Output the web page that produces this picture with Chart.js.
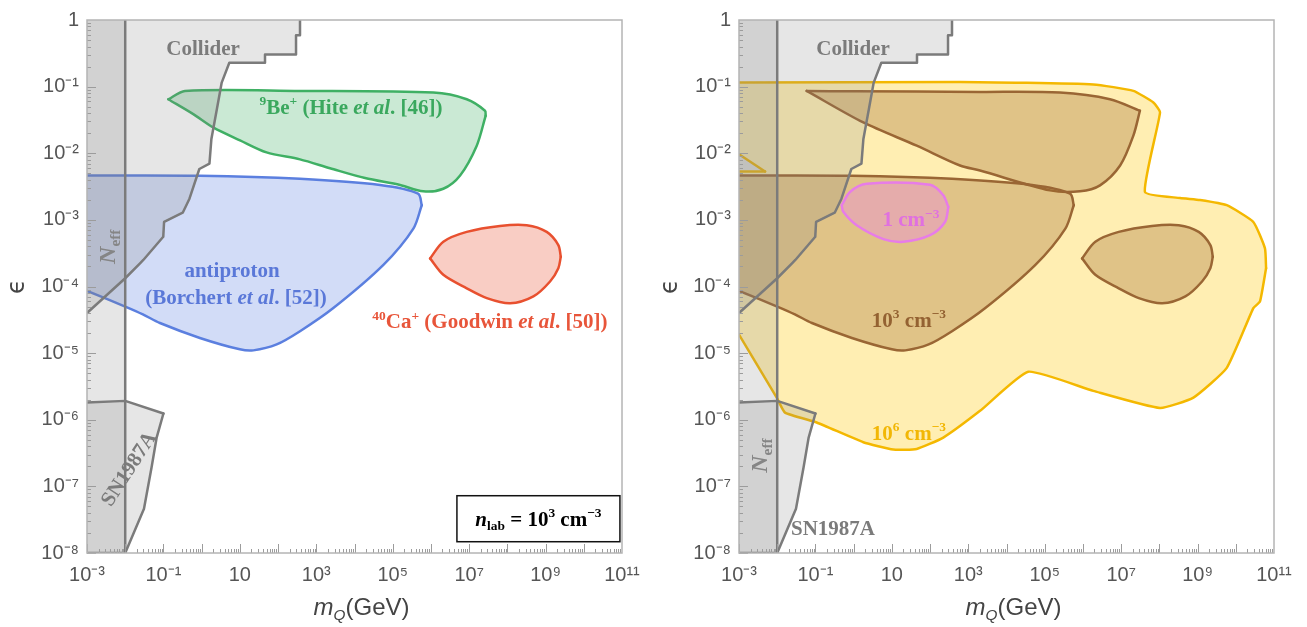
<!DOCTYPE html>
<html lang="en">
<head>
    <meta charset="UTF-8">
    <title>Millicharged particle bounds</title>
    <script src="https://cdn.jsdelivr.net/npm/chart.js"></script>
    <style>
        body {
            margin: 0;
            padding: 0;
            background: white;
            overflow: hidden;
        }
        .panel {
            position: absolute;
            top: 0;
            height: 627px;
        }
        #wrapLeft { left: 0; width: 653px; }
        #wrapRight { left: 653px; width: 654px; }
    </style>
</head>
<body>
    <div class="panel" id="wrapLeft"><canvas id="leftChart"></canvas></div>
    <div class="panel" id="wrapRight"><canvas id="rightChart"></canvas></div>

    <script>
        // ---- axes ----
        const xTickValues = [1e-3, 1e-1, 1e1, 1e3, 1e5, 1e7, 1e9, 1e11];
        const xTickLabels = ["10⁻³", "10⁻¹", "10", "10³", "10⁵", "10⁷", "10⁹", "10¹¹"];
        const yTickValues = [1, 1e-1, 1e-2, 1e-3, 1e-4, 1e-5, 1e-6, 1e-7, 1e-8];
        const yTickLabels = ["1", "10⁻¹", "10⁻²", "10⁻³", "10⁻⁴", "10⁻⁵", "10⁻⁶", "10⁻⁷", "10⁻⁸"];

        // ---- gray exclusion regions (both panels) ----
        const neffTop = [[1e-3, 1], [0.01, 1]];
        const neffBottom = [[1e-3, 1e-8], [0.01, 1e-8]];
        const neffEdge = [[0.01, 1e-8], [0.01, 1]];
        const snTop = [[1e-3, 1.81e-6], [0.01, 1.92e-6], [0.1, 1.24e-6]];
        const snBottom = [[1e-3, 1e-8], [0.01, 1e-8], [0.031, 4.6e-8], [0.049, 1.94e-7], [0.0665, 5.4e-7], [0.1, 1.24e-6]];
        const colliderTop = [[1e-3, 1], [375, 1]];
        const colliderEdge = [[1e-3, 4.0e-5], [0.01, 1.33e-4], [0.0244, 2.23e-4], [0.0298, 2.5e-4], [0.099, 5.57e-4],
            [0.104, 9.3e-4], [0.32, 1.28e-3], [0.48, 2.08e-3], [0.87, 5.8e-3], [1.6, 7.0e-3], [1.8, 0.0164],
            [2.5, 0.0458], [3.35, 0.115], [5.3, 0.228], [45.5, 0.228], [45.5, 0.303], [295, 0.303],
            [295, 0.59], [375, 0.59], [375, 1]];

        // ---- left panel: n_lab = 10^3 cm^-3 ----
        const beTop = [[0.134, 0.0646], [0.367, 0.0863], [375, 0.0863], [1.16e6, 0.0814], [8.65e6, 0.0646], [2.6e7, 0.0434], [2.7e7, 0.0365]];
        const beBottom = [[0.134, 0.0646], [0.605, 0.0386], [2.0, 0.0244], [10.1, 0.0156], [50, 0.0103], [375, 8.1e-3],
            [2290, 5.97e-3], [1.89e4, 4.24e-3], [1.56e5, 3.33e-3], [6.3e5, 2.68e-3], [2.1e6, 2.93e-3],
            [5.8e6, 4.65e-3], [1.58e7, 0.013], [2.7e7, 0.0365]];
        const pbarTop = [[1e-3, 4.64e-3], [0.9, 4.6e-3], [375, 4.13e-3], [4.66e4, 3.33e-3], [4.6e5, 2.47e-3], [5.75e5, 1.66e-3]];
        const pbarBottom = [[1e-3, 8.6e-5], [0.01, 5.0e-5], [0.029, 3.82e-5], [0.081, 2.83e-5], [0.9, 1.69e-5], [10, 1.14e-5],
            [22.5, 1.1e-5], [92, 1.35e-5], [375, 2.13e-5], [2790, 4.74e-5], [5.7e4, 2.11e-4], [3.47e5, 7.4e-4], [5.75e5, 1.66e-3]];
        const caTop = [[9.5e5, 2.64e-4], [2.11e6, 4.7e-4], [8.65e6, 6.6e-4], [6.4e7, 8.1e-4], [3.2e8, 8.3e-4], [1.07e9, 6.6e-4], [2.16e9, 4.19e-4], [2.5e9, 2.8e-4]];
        const caBottom = [[9.5e5, 2.64e-4], [2.11e6, 1.5e-4], [8.65e6, 9.4e-5], [2.9e7, 6.7e-5], [1.18e8, 5.6e-5], [4.8e8, 7.1e-5], [1.31e9, 1.19e-4], [2.16e9, 1.88e-4], [2.5e9, 2.8e-4]];

        // ---- right panel: density contours ----
        const n6Top = [[1e-3, 0.115], [608, 0.1175], [1.87e6, 0.108], [2.09e7, 0.0863], [6.97e7, 0.0577], [1.04e8, 0.0409],
            [4.2e7, 2.62e-3], [3.5e8, 2.13e-3], [1.16e9, 1.99e-3], [5.8e9, 1.66e-3], [2.88e10, 9.3e-4], [5.8e10, 3.73e-4], [6.2e10, 1.88e-4]];
        const n6Bottom = [[1e-3, 1.9e-5], [0.0097, 2.15e-6], [0.016, 1.28e-6], [0.108, 9.1e-7], [1.79, 4.6e-7], [10.9, 3.57e-7],
            [44.7, 3.65e-7], [222, 5.4e-7], [2030, 1.36e-6], [3.7e4, 5.26e-6], [1.87e6, 2.71e-6], [1.04e8, 1.5e-6],
            [7.8e8, 2.15e-6], [5.8e9, 6.0e-6], [2.88e10, 4.74e-5], [4.3e10, 5.97e-5], [6.2e10, 1.88e-4]];
        const n6NotchTop = [[1e-3, 9.66e-3], [4.8e-3, 5.33e-3]];
        const n6NotchBottom = [[1e-3, 5.33e-3], [4.8e-3, 5.33e-3]];
        const n3WedgeTop = [[0.059, 0.0863], [1, 0.085], [2030, 0.0833], [2.5e5, 0.0813], [5.1e6, 0.0646], [3.1e7, 0.0434]];
        const n3WedgeBottom = [[0.059, 0.0863], [1.79, 0.029], [44.8, 0.013], [608, 6.55e-3], [2030, 5.5e-3], [1.38e5, 2.77e-3],
            [8.4e5, 2.68e-3], [2.8e6, 3.3e-3], [9.4e6, 6.55e-3], [2.09e7, 0.0184], [3.1e7, 0.0434]];
        const n1Top = [[0.488, 1.66e-3], [0.8, 2.62e-3], [2.2, 3.48e-3], [100, 3.36e-3], [222, 2.34e-3], [300, 1.56e-3]];
        const n1Bottom = [[0.488, 1.66e-3], [0.537, 1.32e-3], [1.2, 8.3e-4], [6.0, 5.15e-4], [20, 4.7e-4], [100, 5.9e-4], [246, 9.3e-4], [300, 1.56e-3]];

        const GRAY = "#7b7b7b";
        const GRAY_FILL = "rgba(128,128,128,0.2)";
        const LW = 2.5;

        function toPts(arr) {
            return arr.map(p => ({ x: p[0], y: p[1] }));
        }

        // pushes an upper and a lower boundary; the lower one fills up to the upper one
        function addRegion(list, upper, lower, s) {
            const i = list.length;
            const tension = s.tension !== undefined ? s.tension : 0.3;
            list.push({ data: toPts(upper), borderColor: s.stroke, borderWidth: s.upperWidth !== undefined ? s.upperWidth : LW,
                tension: tension, fill: false, order: 999 - i });
            list.push({ data: toPts(lower), borderColor: s.stroke, borderWidth: s.lowerWidth !== undefined ? s.lowerWidth : LW,
                tension: tension, fill: i, backgroundColor: s.fill, order: 1000 - i });
        }

        function addLine(list, pts, color, width) {
            const i = list.length;
            list.push({ data: toPts(pts), borderColor: color, borderWidth: width, tension: 0, fill: false, order: 1000 - i });
        }

        function addGray(list) {
            addRegion(list, neffTop, neffBottom, { stroke: GRAY, fill: GRAY_FILL, upperWidth: 0, lowerWidth: 0, tension: 0 });
            addRegion(list, snTop, snBottom, { stroke: GRAY, fill: GRAY_FILL, tension: 0 });
            addRegion(list, colliderTop, colliderEdge, { stroke: GRAY, fill: GRAY_FILL, upperWidth: 0, tension: 0 });
            addLine(list, neffEdge, GRAY, 2.5);
        }

        const leftSets = [];
        addRegion(leftSets, pbarTop, pbarBottom, { stroke: "#5b7fdf", fill: "rgba(90,125,225,0.27)" });
        addRegion(leftSets, beTop, beBottom, { stroke: "#3fb064", fill: "rgba(60,175,95,0.27)" });
        addRegion(leftSets, caTop, caBottom, { stroke: "#e8502f", fill: "rgba(235,90,60,0.3)" });
        addGray(leftSets);

        const BROWN = "#9a6634";
        const BROWN_FILL = "rgba(160,105,45,0.32)";
        const rightSets = [];
        addRegion(rightSets, n6Top, n6Bottom, { stroke: "#f4b800", fill: "rgba(255,200,0,0.3)", tension: 0.15 });
        addRegion(rightSets, n3WedgeTop, n3WedgeBottom, { stroke: BROWN, fill: BROWN_FILL });
        addRegion(rightSets, pbarTop, pbarBottom, { stroke: BROWN, fill: BROWN_FILL });
        addRegion(rightSets, caTop, caBottom, { stroke: BROWN, fill: BROWN_FILL });
        addRegion(rightSets, n1Top, n1Bottom, { stroke: "#e77ce8", fill: "rgba(238,130,238,0.35)" });
        addRegion(rightSets, n6NotchTop, n6NotchBottom, { stroke: "#f4b800", fill: "rgba(226,226,230,0.9)", tension: 0 });
        addGray(rightSets);

        // ---- annotations ----
        const SERIF = "'Liberation Serif', 'DejaVu Serif', serif";
        const SANS = "'Liberation Sans', Arial, sans-serif";
        const leftLabels = [
            { at: [1.09, 0.382], color: GRAY, parts: [["Collider"]] },
            { at: [8100, 0.0503], color: "#3aa85e", parts: [["9", "sup"], ["Be"], ["+", "sup"], [" (Hite "], ["et al", "i"], [". [46])"]] },
            { at: [6.24, 1.79e-4], color: "#5a78d8", parts: [["antiproton"]] },
            { at: [7.9, 7.1e-5], color: "#5a78d8", parts: [["(Borchert "], ["et al", "i"], [". [52])"]] },
            { at: [3.5e7, 3.0e-5], color: "#e8553a", parts: [["40", "sup"], ["Ca"], ["+", "sup"], [" (Goodwin "], ["et al", "i"], [". [50])"]] },
            { at: [3.3e-3, 3.95e-4], color: "#858585", size: 24, angle: -90, parts: [["N", "i"], ["eff", "sub"]] },
            { at: [0.0118, 1.86e-7], color: GRAY, angle: -57, parts: [["SN1987A"]] },
            { at: [6.5e8, 3.27e-8], color: "#000", box: [163, 46], parts: [["n", "i"], ["lab", "sub"], [" = 10"], ["3", "sup"], [" cm"], ["−3", "sup"]] }
        ];
        const rightLabels = [
            { at: [0.96, 0.382], color: GRAY, parts: [["Collider"]] },
            { at: [31.7, 1.03e-3], color: "#e070e0", parts: [["1 cm"], ["−3", "sup"]] },
            { at: [28, 3.2e-5], color: "#946232", parts: [["10"], ["3", "sup"], [" cm"], ["−3", "sup"]] },
            { at: [28, 6.4e-7], color: "#f2b705", parts: [["10"], ["6", "sup"], [" cm"], ["−3", "sup"]] },
            { at: [3.3e-3, 2.9e-7], color: "#858585", size: 24, angle: -90, parts: [["N", "i"], ["eff", "sub"]] },
            { at: [0.288, 2.36e-8], color: GRAY, parts: [["SN1987A"]] }
        ];
        const xTitleParts = [["m", "i"], ["Q", "i sub"], ["(GeV)"]];

        function richText(ctx, parts, cx, cy, o) {
            const size = o.size;
            ctx.save();
            ctx.translate(cx, cy);
            ctx.rotate((o.angle || 0) * Math.PI / 180);
            ctx.fillStyle = o.color;
            ctx.textBaseline = "alphabetic";
            ctx.textAlign = "left";
            const items = parts.map(p => {
                const flags = p[1] || "";
                const small = flags.includes("sup") || flags.includes("sub");
                const font = (flags.includes("i") ? "italic " : "") + (o.weight || "bold") + " " + (small ? size * 0.64 : size) + "px " + o.family;
                ctx.font = font;
                const dy = flags.includes("sup") ? -size * 0.4 : flags.includes("sub") ? size * 0.22 : 0;
                return { text: p[0], font: font, dy: dy, w: ctx.measureText(p[0]).width };
            });
            const total = items.reduce((s, it) => s + it.w, 0);
            let x = -total / 2;
            items.forEach(it => {
                ctx.font = it.font;
                ctx.fillText(it.text, x, size * 0.34 + it.dy);
                x += it.w;
            });
            ctx.restore();
        }

        function decorPlugin(labels) {
            return {
                id: "decor",
                afterDraw(chart) {
                    const { ctx, chartArea: a, scales: { x, y } } = chart;
                    ctx.save();
                    // inward tick marks
                    ctx.strokeStyle = "#9c9c9c";
                    ctx.lineWidth = 1;
                    ctx.beginPath();
                    for (let e = -3; e < 11; e++) {
                        for (let m = 1; m < 10; m++) {
                            const px = Math.round(x.getPixelForValue(m * Math.pow(10, e))) + 0.5;
                            const len = m === 1 ? 9 : 4;
                            ctx.moveTo(px, a.bottom);
                            ctx.lineTo(px, a.bottom - len);
                        }
                    }
                    for (let e = -8; e < 0; e++) {
                        for (let m = 1; m < 10; m++) {
                            const py = Math.round(y.getPixelForValue(m * Math.pow(10, e))) + 0.5;
                            const len = m === 1 ? 9 : 4;
                            ctx.moveTo(a.left, py);
                            ctx.lineTo(a.left + len, py);
                        }
                    }
                    ctx.stroke();
                    // frame
                    ctx.strokeStyle = "#b4b4b4";
                    ctx.lineWidth = 1.5;
                    ctx.strokeRect(a.left, a.top, a.right - a.left, a.bottom - a.top);

                    labels.forEach(lb => {
                        const cx = x.getPixelForValue(lb.at[0]);
                        const cy = y.getPixelForValue(lb.at[1]);
                        if (lb.box) {
                            ctx.fillStyle = "white";
                            ctx.fillRect(cx - lb.box[0] / 2, cy - lb.box[1] / 2, lb.box[0], lb.box[1]);
                            ctx.strokeStyle = "#111";
                            ctx.lineWidth = 1.5;
                            ctx.strokeRect(cx - lb.box[0] / 2, cy - lb.box[1] / 2, lb.box[0], lb.box[1]);
                        }
                        richText(ctx, lb.parts, cx, cy, { size: lb.size || 21, family: SERIF, color: lb.color, weight: lb.weight, angle: lb.angle });
                    });
                    richText(ctx, xTitleParts, (a.left + a.right) / 2 + 7, 607, { size: 24, family: SANS, color: "#444", weight: "normal" });
                    ctx.restore();
                }
            };
        }

        function makeChart(id, datasets, labels, axisWidth, padRight) {
            return new Chart(document.getElementById(id), {
                type: "line",
                data: { datasets: datasets },
                options: {
                    responsive: true,
                    maintainAspectRatio: false,
                    animation: false,
                    events: [],
                    layout: { padding: { left: 0, top: 17, right: padRight, bottom: 0 } },
                    elements: {
                        point: { radius: 0, hitRadius: 0 },
                        line: { borderJoinStyle: "round", borderCapStyle: "round" }
                    },
                    plugins: {
                        legend: { display: false },
                        tooltip: { enabled: false }
                    },
                    scales: {
                        x: {
                            type: "logarithmic",
                            min: 1e-3,
                            max: 1e11,
                            grid: { display: false, drawTicks: false },
                            border: { display: false },
                            afterBuildTicks: s => { s.ticks = xTickValues.map(v => ({ value: v })); },
                            afterFit: s => { s.height = 74; },
                            ticks: {
                                autoSkip: false,
                                maxRotation: 0,
                                padding: 10,
                                color: "#555",
                                font: { family: SANS, size: 20 },
                                callback: (v, i) => xTickLabels[i]
                            }
                        },
                        y: {
                            type: "logarithmic",
                            min: 1e-8,
                            max: 1,
                            grid: { display: false, drawTicks: false },
                            border: { display: false },
                            afterBuildTicks: s => { s.ticks = yTickValues.map(v => ({ value: v })); },
                            afterFit: s => { s.width = axisWidth; },
                            title: { display: true, text: "ϵ", color: "#444", font: { family: "'DejaVu Sans'", size: 24 }, padding: { top: 3 } },
                            ticks: {
                                autoSkip: false,
                                padding: 8,
                                color: "#555",
                                font: { family: SANS, size: 20 },
                                callback: (v, i) => yTickLabels[i]
                            }
                        }
                    }
                },
                plugins: [decorPlugin(labels)]
            });
        }

        makeChart("leftChart", leftSets, leftLabels, 87, 31);
        makeChart("rightChart", rightSets, rightLabels, 86, 33);
    </script>
</body>
</html>
